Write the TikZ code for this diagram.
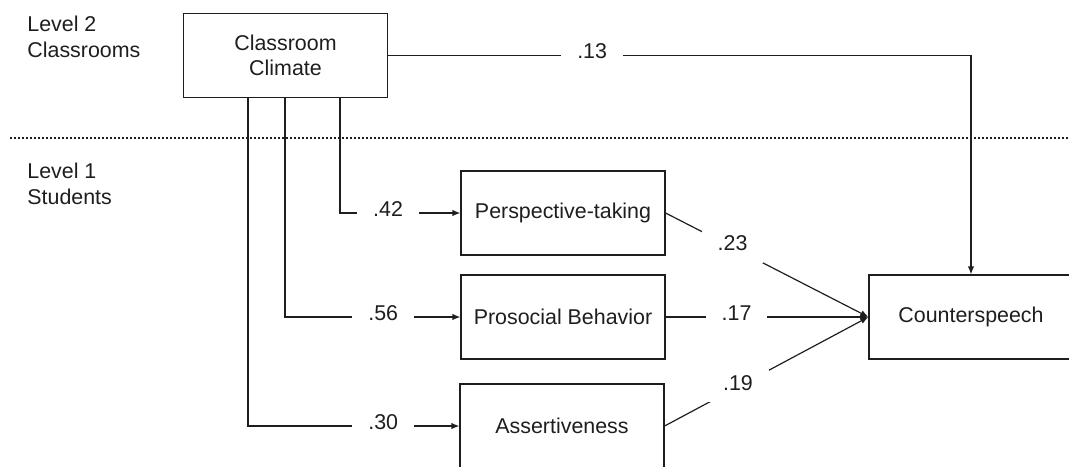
\documentclass[tikz,border=0pt]{standalone}
\usepackage{fontspec}
\setmainfont{Liberation Sans}
\usetikzlibrary{arrows.meta, calc, positioning}
\definecolor{ink}{HTML}{1E1E1E}

\begin{document}
\begin{tikzpicture}[
    x=0.5pt, y=-0.5pt,
    font=\fontsize{10.7}{12.8}\selectfont,
    link/.style={
      draw=ink,
      line width=0.6pt,
    },
    arrow/.style={
      link,
      -{Latex[length=4pt,width=3.2pt]},
    },
    varbox/.style={
      draw=ink,
      line width=0.6pt,
      minimum width=102pt,
      minimum height=42pt,
      inner sep=0pt,
      align=center,
      text=ink,
    },
    coef/.style={
      fill=white,
      inner xsep=8pt,
      inner ysep=6pt,
      yshift=2pt,
      text=ink,
    },
    level/.style={
      anchor=north west,
      inner sep=0pt,
      align=left,
      text=ink,
    },
  ]

  \useasboundingbox (0,0) rectangle (1069,466);
  \clip (0,0) rectangle (1069,466);

  % Levels
  \node[level] (lvltwo) at (27,16) {Level 2\\Classrooms};
  \node[level] (lvlone) at (27,163) {Level 1\\Students};
  \draw[ink, line width=0.8pt, dash pattern=on 0.8pt off 1.2pt] (10,138) -- (1069,138);

  % Variables
  \node[varbox] (climate) at (285.5,55.5) {Classroom\\Climate};
  \node[varbox] (persp) at (563,213) {Perspective-taking};
  \node[varbox] (prosoc) at (563,317) {Prosocial Behavior};
  \node[varbox] (assert) at (562,426) {Assertiveness};
  \node[varbox] (counter) at (971,317) {Counterspeech};

  % Paths from climate
  \draw[arrow] ($(climate.south west)+(157,0)$) |- node[coef, pos=0.70] {.42} (persp.west);
  \draw[arrow] ($(climate.south west)+(102,0)$) |- node[coef, pos=0.78] {.56} (prosoc.west);
  \draw[arrow] ($(climate.south west)+(65,0)$) |- node[coef, pos=0.82] {.30} (assert.west);
  \draw[arrow] (climate.east) -| node[coef, pos=0.175] {.13} (counter.north);

  % Paths to counterspeech
  \draw[arrow] (persp.east) -- node[coef, pos=0.33] {.23} (counter.west);
  \draw[arrow] (prosoc.east) -- node[coef, pos=0.35] {.17} (counter.west);
  \draw[arrow] (assert.east) -- node[coef, pos=0.36] {.19} (counter.west);

\end{tikzpicture}
\end{document}
